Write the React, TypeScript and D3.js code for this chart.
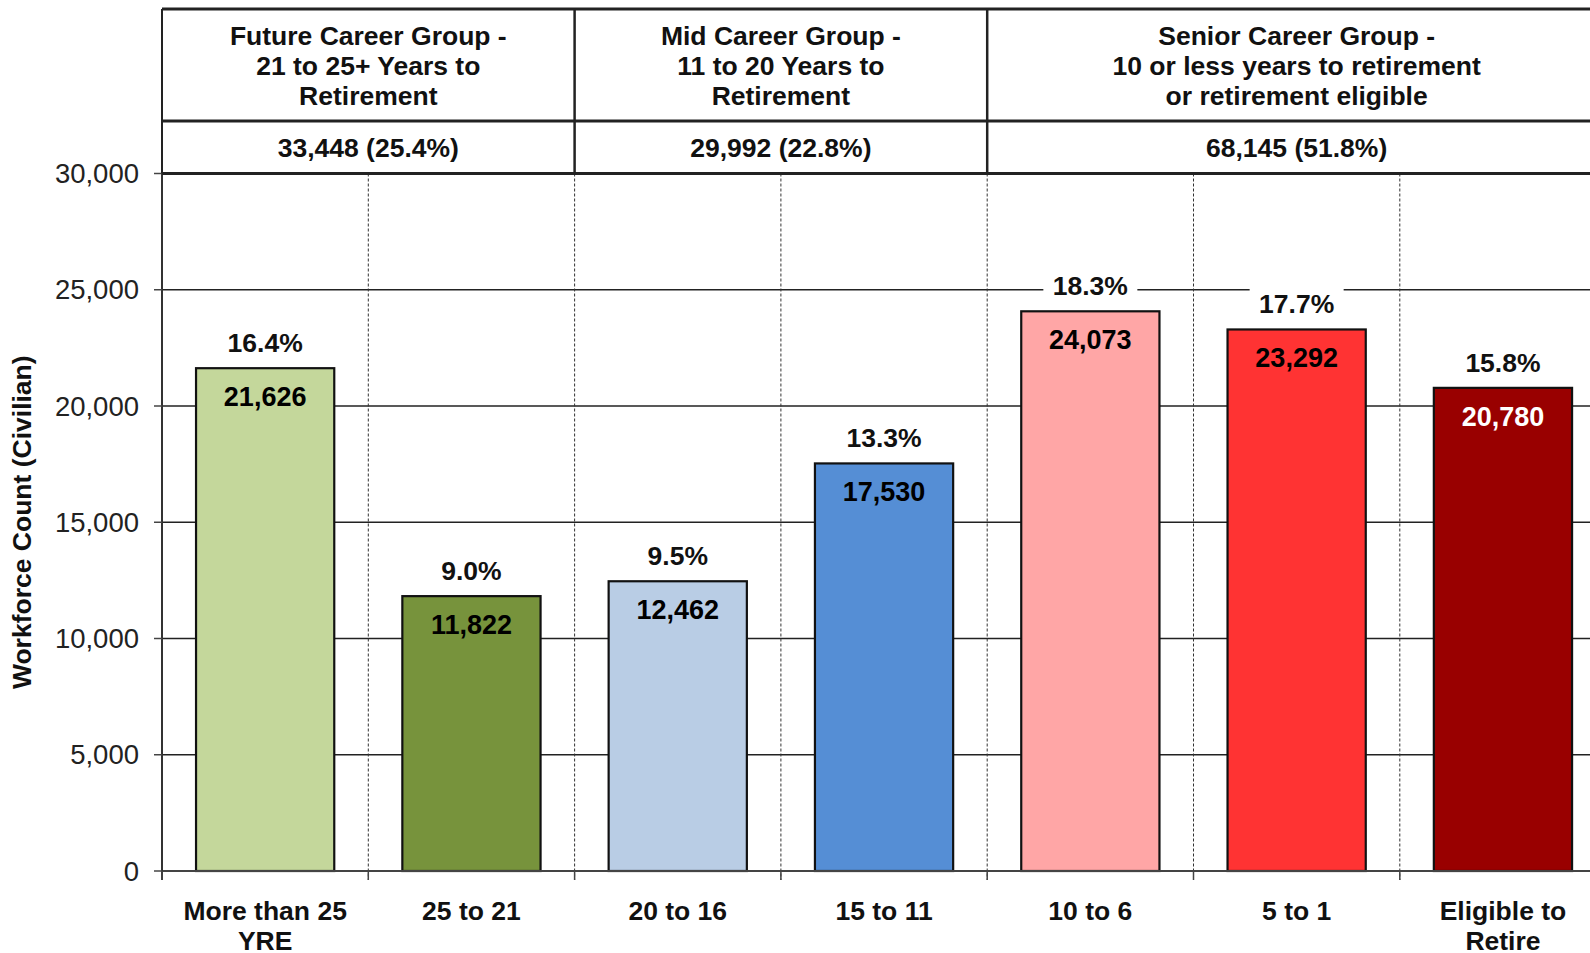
import { scaleBand, scaleLinear, format } from "d3";

const categories = ["More than 25 YRE", "25 to 21", "20 to 16", "15 to 11", "10 to 6", "5 to 1", "Eligible to Retire"];
const categoryLines = [["More than 25", "YRE"], ["25 to 21"], ["20 to 16"], ["15 to 11"], ["10 to 6"], ["5 to 1"], ["Eligible to", "Retire"]];
const workforce = [21626, 11822, 12462, 17530, 24073, 23292, 20780];
const shares = ["16.4%", "9.0%", "9.5%", "13.3%", "18.3%", "17.7%", "15.8%"];
const barColors = ["#c4d79b", "#77933c", "#b9cde5", "#558ed5", "#ffa6a6", "#ff3333", "#990000"];
const valueColors = ["#000", "#000", "#000", "#000", "#000", "#000", "#fff"];

const groupTitles = [
  ["Future Career Group -", "21 to 25+ Years to", "Retirement"],
  ["Mid Career Group -", "11 to 20 Years to", "Retirement"],
  ["Senior Career Group -", "10 or less years to retirement", "or retirement eligible"],
];
const groupTotals = ["33,448 (25.4%)", "29,992 (22.8%)", "68,145 (51.8%)"];
const groupSizes = [2, 2, 3];
const yTicks = [0, 5000, 10000, 15000, 20000, 25000, 30000];

const W = 1590;
const H = 953;
const left = 162;
const step = 206.3;
const plotTop = 173.5;
const plotBottom = 871;
const headTop = 9;
const headMid = 121;
const font = "'Liberation Sans', Arial, sans-serif";
const fs = 26.5;

export default function App() {
  const x = scaleBand<string>()
    .domain(categories)
    .range([left, left + step * categories.length])
    .paddingInner(0.33)
    .paddingOuter(0.165);
  const y = scaleLinear().domain([0, 30000]).range([plotBottom, plotTop]);
  const fmt = format(",");
  const bw = x.bandwidth();
  const s = x.step();
  const right = left + s * categories.length;

  // group column edges
  const edges: number[] = [left];
  groupSizes.reduce((acc, n) => {
    edges.push(left + (acc + n) * s);
    return acc + n;
  }, 0);

  return (
    <div style={{ position: "absolute", left: 0, top: 0, width: W, height: H, background: "#fff" }}>
      <svg width={W} height={H} style={{ display: "block", fontFamily: font }}>
        <rect width={W} height={H} fill="#fff" />
        {/* gridlines */}
        {yTicks.slice(1, -1).map((t) => (
          <line key={t} x1={left} x2={right} y1={y(t)} y2={y(t)} stroke="#222" strokeWidth={1.3} />
        ))}
        {/* dashed category separators */}
        {categories.slice(1).map((_, i) => (
          <line
            key={i}
            x1={left + (i + 1) * s}
            x2={left + (i + 1) * s}
            y1={plotTop}
            y2={plotBottom + 9}
            stroke="#333"
            strokeWidth={1}
            strokeDasharray="3,2"
          />
        ))}
        {/* bars */}
        {categories.map((c, i) => (
          <rect
            key={c}
            x={x(c)}
            y={y(workforce[i])}
            width={bw}
            height={plotBottom - y(workforce[i])}
            fill={barColors[i]}
            stroke="#111"
            strokeWidth={2.2}
          />
        ))}
        {/* value labels */}
        {categories.map((c, i) => (
          <text
            key={c}
            x={(x(c) ?? 0) + bw / 2}
            y={y(workforce[i]) + 28.5}
            dy="0.35em"
            textAnchor="middle"
            fontWeight="bold"
            fontSize={27}
            fill={valueColors[i]}
          >
            {fmt(workforce[i])}
          </text>
        ))}
        {/* percent labels */}
        {categories.map((c, i) => {
          const cx = (x(c) ?? 0) + bw / 2;
          const cy = y(workforce[i]) - 25.5;
          return (
            <g key={c}>
              <rect x={cx - 47} y={cy - 15} width={94} height={30} fill="#fff" />
              <text x={cx} y={cy} dy="0.35em" textAnchor="middle" fontWeight="bold" fontSize={fs} fill="#111">
                {shares[i]}
              </text>
            </g>
          );
        })}
        {/* axes */}
        <line x1={left} x2={right} y1={plotBottom} y2={plotBottom} stroke="#444" strokeWidth={2} />
        <line x1={left} x2={left} y1={headTop} y2={plotBottom + 9} stroke="#333" strokeWidth={2} />
        {categories.map((_, i) => (
          <line key={i} x1={left + i * s} x2={left + i * s} y1={plotBottom} y2={plotBottom + 9} stroke="#444" strokeWidth={1.5} />
        ))}
        {yTicks.map((t) => (
          <g key={t}>
            <line x1={left - 8} x2={left} y1={y(t)} y2={y(t)} stroke="#444" strokeWidth={1.5} />
            <text x={139} y={y(t)} dy="0.35em" textAnchor="end" fontSize={27.5} fill="#222">
              {fmt(t)}
            </text>
          </g>
        ))}
        {/* category labels */}
        {categories.map((c, i) => (
          <text key={c} x={(x(c) ?? 0) + bw / 2} textAnchor="middle" fontWeight="bold" fontSize={fs} fill="#111">
            {categoryLines[i].map((ln, j) => (
              <tspan key={j} x={(x(c) ?? 0) + bw / 2} y={911 + j * 30} dy="0.35em">
                {ln}
              </tspan>
            ))}
          </text>
        ))}
        {/* y axis title */}
        <text
          transform={`translate(22,${(plotTop + plotBottom) / 2}) rotate(-90)`}
          textAnchor="middle"
          dy="0.35em"
          fontWeight="bold"
          fontSize={fs}
          fill="#111"
        >
          Workforce Count (Civilian)
        </text>
        {/* header table */}
        <line x1={left} x2={right} y1={headTop} y2={headTop} stroke="#222" strokeWidth={3} />
        <line x1={left} x2={right} y1={headMid} y2={headMid} stroke="#222" strokeWidth={3} />
        <line x1={left} x2={right} y1={plotTop} y2={plotTop} stroke="#222" strokeWidth={3} />
        {edges.map((e, i) => (
          <line key={i} x1={e} x2={e} y1={headTop} y2={plotTop} stroke="#222" strokeWidth={i === 0 ? 2 : 2.5} />
        ))}
        {groupTitles.map((lines, g) => {
          const cx = (edges[g] + edges[g + 1]) / 2;
          return (
            <g key={g}>
              <text textAnchor="middle" fontWeight="bold" fontSize={fs} fill="#111">
                {lines.map((ln, j) => (
                  <tspan key={j} x={cx} y={36 + j * 29.8} dy="0.35em">
                    {ln}
                  </tspan>
                ))}
              </text>
              <text x={cx} y={148} dy="0.35em" textAnchor="middle" fontWeight="bold" fontSize={fs} fill="#111">
                {groupTotals[g]}
              </text>
            </g>
          );
        })}
      </svg>
    </div>
  );
}
